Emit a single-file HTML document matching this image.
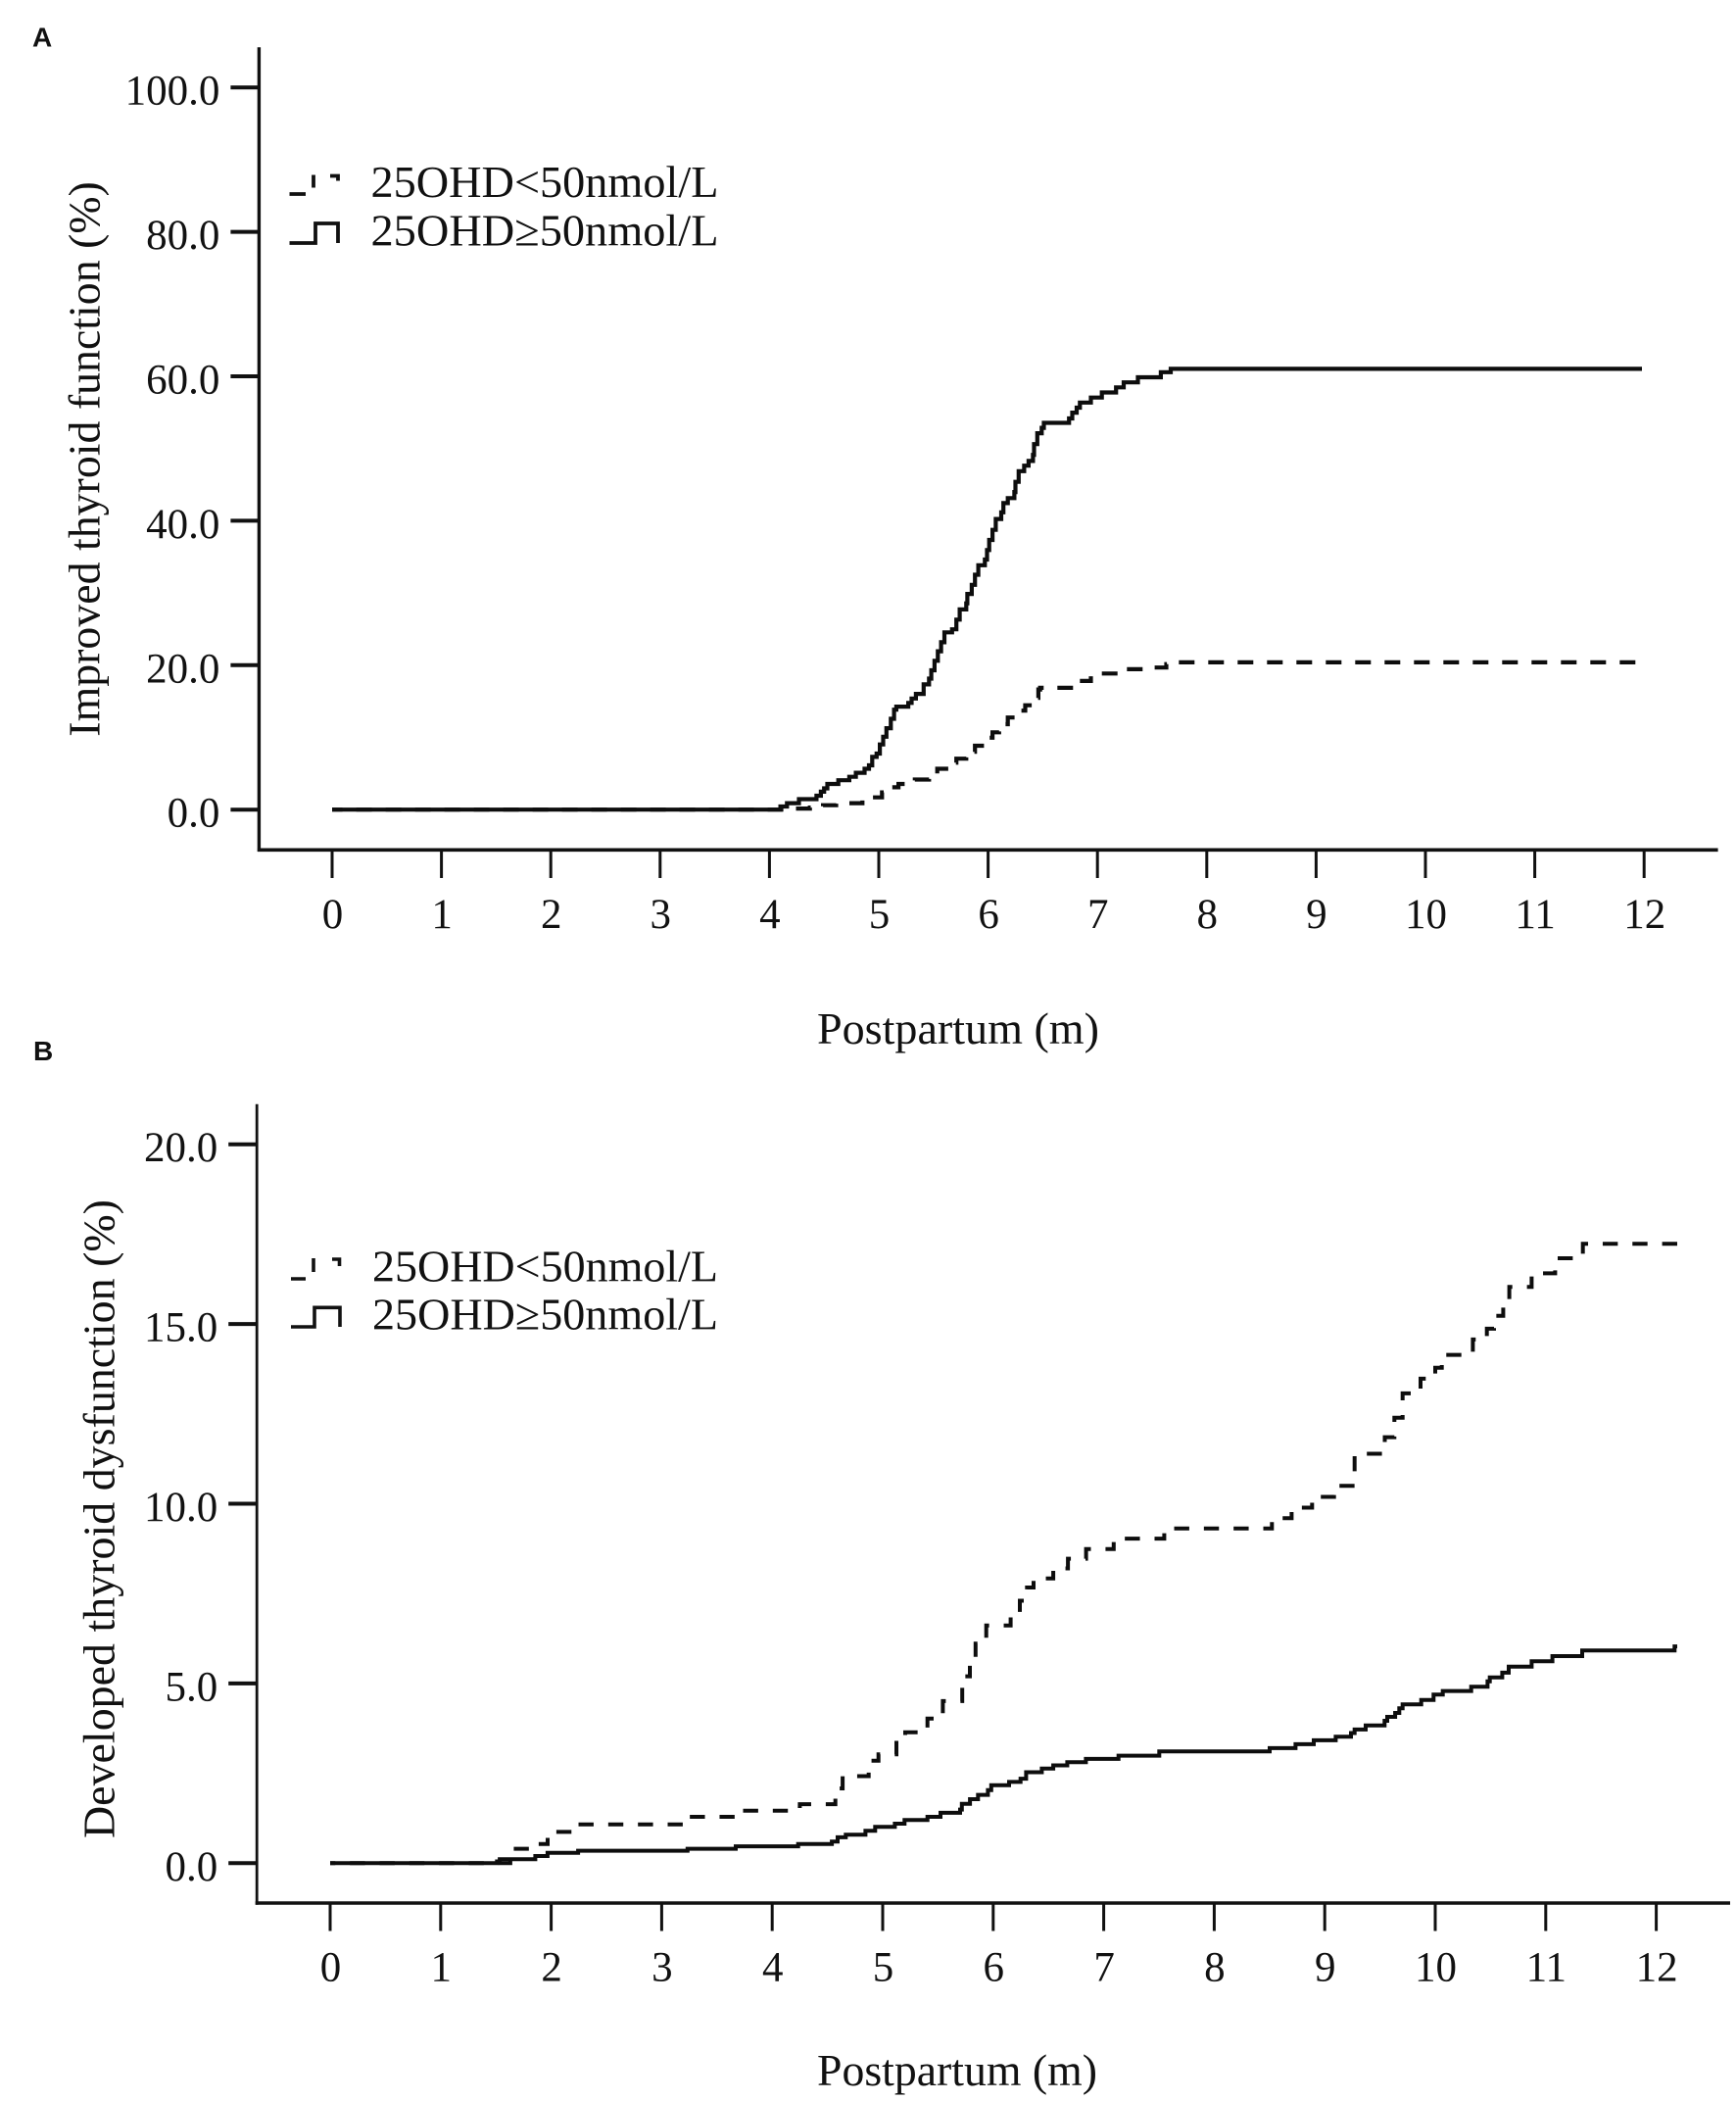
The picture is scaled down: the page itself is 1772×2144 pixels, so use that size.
<!DOCTYPE html>
<html lang="en">
<head>
<meta charset="utf-8">
<title>Thyroid function by 25OHD status</title>
<style>
html,body{margin:0;padding:0;background:#fff;}
#figure{display:block;width:1772px;height:2144px;background:#fff;}
text{font-family:"Liberation Serif",serif;fill:#111;}
.panel-label{font-family:"Liberation Sans",sans-serif;font-weight:700;font-size:28px;fill:#111;}
.tick-label{font-size:43px;}
.title{font-size:46px;}
.legend-text{font-size:45.5px;}
</style>
</head>
<body>
<svg id="figure" xmlns="http://www.w3.org/2000/svg" width="1772" height="2144" viewBox="0 0 1772 2144">
  <g id="panel-a">
    <text class="panel-label" x="33" y="47.5">A</text>
    <text class="title" transform="translate(101.7 751.7) rotate(-90)" x="0" y="0" textLength="566.5" lengthAdjust="spacingAndGlyphs">Improved thyroid function (%)</text>
    <text class="title" x="834" y="1065" textLength="288" lengthAdjust="spacingAndGlyphs">Postpartum (m)</text>
    <g>
      <path d="M295.5 198H312M320 178.5V191.5M337 179.5H345V184.5" fill="none" stroke="#111" stroke-width="3.8"/>
      <text class="legend-text" x="378.5" y="200.8" textLength="355" lengthAdjust="spacingAndGlyphs">25OHD&lt;50nmol/L</text>
      <path d="M295.5 248H322V228H345V248" fill="none" stroke="#111" stroke-width="3.8"/>
      <text class="legend-text" x="378.5" y="250.7" textLength="355" lengthAdjust="spacingAndGlyphs">25OHD≥50nmol/L</text>
    </g>
  </g>
  <g id="panel-b">
    <text class="panel-label" x="34" y="1082">B</text>
    <text class="title" transform="translate(116.7 1876) rotate(-90)" x="0" y="0" textLength="652" lengthAdjust="spacingAndGlyphs">Developed thyroid dysfunction (%)</text>
    <text class="title" x="834" y="2128" textLength="286" lengthAdjust="spacingAndGlyphs">Postpartum (m)</text>
    <g>
      <path d="M297 1305H312M320 1284V1298M339 1285H346.5V1292" fill="none" stroke="#111" stroke-width="3.6"/>
      <text class="legend-text" x="380" y="1307.3" textLength="353" lengthAdjust="spacingAndGlyphs">25OHD&lt;50nmol/L</text>
      <path d="M297 1354H321V1334.3H347V1354" fill="none" stroke="#111" stroke-width="3.6"/>
      <text class="legend-text" x="380" y="1356.7" textLength="353" lengthAdjust="spacingAndGlyphs">25OHD≥50nmol/L</text>
    </g>
  </g>
</svg>
<script>
// ----- Shared categories -----
const monthTicks = [0,1,2,3,4,5,6,7,8,9,10,11,12];
const monthTickLabels = ["0","1","2","3","4","5","6","7","8","9","10","11","12"];

// ----- Panel A data -----
const aValueTicks = [0,20,40,60,80,100];
const aValueTickLabels = ["0.0","20.0","40.0","60.0","80.0","100.0"];
const aHighMonths = [4.10,4.16,4.27,4.43,4.47,4.50,4.53,4.63,4.73,4.79,4.87,4.91,4.94,4.98,5.01,5.04,5.07,5.11,5.14,5.16,5.27,5.30,5.34,5.41,5.46,5.48,5.51,5.54,5.57,5.60,5.67,5.71,5.74,5.80,5.81,5.85,5.88,5.91,5.97,5.99,6.01,6.04,6.07,6.12,6.14,6.18,6.24,6.25,6.28,6.33,6.37,6.41,6.42,6.45,6.49,6.51,6.74,6.77,6.81,6.84,6.94,7.04,7.17,7.24,7.37,7.58,7.67];
const aHighValues = [0.43,0.89,1.45,1.92,2.48,2.95,3.56,4.07,4.54,5.10,5.66,6.13,7.30,7.76,9.02,10.10,11.27,12.58,13.84,14.26,14.77,15.38,16.03,17.34,18.14,19.30,20.61,21.92,23.18,24.54,24.96,26.31,27.72,28.56,29.87,31.13,32.53,33.84,34.63,35.94,37.34,38.74,40.24,41.17,42.44,43.14,43.98,45.38,46.87,47.62,48.28,49.12,50.61,52.11,52.86,53.56,54.16,54.96,55.66,56.36,57.06,57.76,58.46,59.16,59.87,60.57,61.03];
const aHighEndMonth = 11.98;
const aLowMonths = [4.19,4.37,4.49,4.61,4.85,4.91,5.03,5.10,5.18,5.33,5.46,5.535,5.64,5.71,5.80,5.88,5.97,6.04,6.10,6.18,6.27,6.34,6.425,6.46,6.476,6.82,6.94,7.01,7.25,7.51,7.63,7.69];
const aLowValues = [0.15,0.29,0.61,0.89,1.36,1.69,2.39,3.09,3.56,4.17,4.96,5.66,6.50,7.06,8.00,8.84,9.96,10.70,11.83,12.76,13.70,14.45,15.47,16.64,16.87,17.81,18.18,18.84,19.44,19.68,20.15,20.40];
const aLowEndMonth = 11.92;

// ----- Panel B data -----
const bValueTicks = [0,5,10,15,20];
const bValueTickLabels = ["0.0","5.0","10.0","15.0","20.0"];
const bHighMonths = [1.51,1.535,1.856,1.967,2.244,3.234,3.67,4.235,4.54,4.592,4.666,4.844,4.932,5.11,5.198,5.405,5.523,5.7,5.716,5.79,5.863,5.952,5.982,6.144,6.247,6.298,6.44,6.543,6.67,6.839,7.134,7.503,8.502,8.736,8.901,9.099,9.238,9.27,9.371,9.542,9.566,9.637,9.675,9.705,9.873,9.985,10.068,10.325,10.473,10.494,10.606,10.665,10.872,11.06,11.33,12.166];
const bHighValues = [0.05,0.11,0.2,0.29,0.345,0.40,0.47,0.535,0.6,0.72,0.79,0.9,1.01,1.1,1.2,1.29,1.4,1.49,1.65,1.78,1.9,2.03,2.17,2.26,2.35,2.53,2.63,2.72,2.81,2.9,2.99,3.11,3.2,3.31,3.42,3.52,3.62,3.72,3.83,3.96,4.07,4.18,4.31,4.42,4.54,4.69,4.79,4.91,5.06,5.17,5.3,5.47,5.62,5.76,5.92,6.03];
const bHighEndMonth = 12.19;
const bLowMonths = [1.63,1.83,1.968,2.244,3.234,3.672,4.25,4.572,4.637,4.873,4.962,5.124,5.204,5.405,5.544,5.72,5.789,5.84,5.937,6.158,6.241,6.306,6.365,6.543,6.676,6.84,7.09,7.548,8.522,8.7,8.886,9.084,9.27,9.543,9.63,9.705,9.867,10.0,10.059,10.34,10.467,10.532,10.615,10.67,10.872,11.085,11.336];
const bLowValues = [0.40,0.535,0.87,1.08,1.29,1.46,1.64,2.08,2.42,2.85,3.03,3.44,3.64,4.02,4.51,5.2,5.6,6.11,6.61,6.85,7.3,7.67,7.92,8.2,8.47,8.74,9.03,9.31,9.6,9.89,10.19,10.5,11.39,11.85,12.39,13.07,13.48,13.78,14.14,14.57,14.87,15.23,15.57,16.03,16.41,16.83,17.23];
const bLowEndMonth = 12.19;

// ----- Axis functions -----
const SVGNS = "http://www.w3.org/2000/svg";
function xA(m){ return 339 + 111.6 * m; }
function yA(v){ return 826.2 - 7.37 * v; }
function xB(m){ return 337 + 112.8 * m; }
function yB(v){ return 1901.3 - 36.68 * v; }

function stepPath(months, values, endMonth, x, y){
  let d = "M" + x(0).toFixed(1) + " " + y(0).toFixed(1);
  for (let i = 0; i < months.length; i++){
    d += "H" + x(months[i]).toFixed(1) + "V" + y(values[i]).toFixed(1);
  }
  return d + "H" + x(endMonth).toFixed(1);
}

function makeLine(parent, x1, y1, x2, y2, width){
  const el = document.createElementNS(SVGNS, "line");
  el.setAttribute("x1", x1);
  el.setAttribute("y1", y1);
  el.setAttribute("x2", x2);
  el.setAttribute("y2", y2);
  el.setAttribute("stroke", "#111");
  el.setAttribute("stroke-width", width);
  parent.appendChild(el);
  return el;
}

function makeLabel(parent, x, y, anchor, content){
  const el = document.createElementNS(SVGNS, "text");
  el.setAttribute("class", "tick-label");
  el.setAttribute("x", x);
  el.setAttribute("y", y);
  el.setAttribute("text-anchor", anchor);
  el.textContent = content;
  parent.appendChild(el);
  return el;
}

function makeCurve(parent, d, width, dashLen, gapLen){
  const el = document.createElementNS(SVGNS, "path");
  el.setAttribute("d", d);
  el.setAttribute("fill", "none");
  el.setAttribute("stroke", "#0d0d0d");
  el.setAttribute("stroke-width", width);
  parent.appendChild(el);
  if (dashLen){
    // anchor the dash pattern so the path finishes exactly at the end of a dash
    const period = dashLen + gapLen;
    const total = el.getTotalLength();
    el.setAttribute("stroke-dasharray", dashLen + " " + gapLen);
    el.setAttribute("stroke-dashoffset", (dashLen - (total % period)).toFixed(2));
  }
  return el;
}

function drawAxes(cfg){
  const g = document.getElementById(cfg.id);
  const yAxis = makeLine(g, cfg.axisX, cfg.axisTop, cfg.axisX, cfg.axisY + 1.7, cfg.yAxisWidth);
  
  
  const xAxis = makeLine(g, cfg.axisX - 1.5, cfg.axisY, cfg.axisEnd, cfg.axisY, 3.6);
  
  

  cfg.valueTicks.forEach(function(v, i){
    const tick = makeLine(g, cfg.axisX - 29, cfg.y(v), cfg.axisX, cfg.y(v), 4);
    
    
    const label = makeLabel(g, cfg.axisX - 40, cfg.y(v) + 17.5, "end", cfg.valueLabels[i]);
    
    
  });

  monthTicks.forEach(function(m, i){
    const tick = makeLine(g, cfg.x(m), cfg.axisY, cfg.x(m), cfg.tickBottom, 3);
    
    
    const label = makeLabel(g, cfg.x(m) + 0.5, cfg.labelBaseline, "middle", monthTickLabels[i]);
    
    
  });
}

drawAxes({id:"panel-a", x:xA, y:yA, axisX:264.4, axisTop:48.2, axisY:867.3, axisEnd:1753.6, tickBottom:896, labelBaseline:947, yAxisWidth:3.4, valueTicks:aValueTicks, valueLabels:aValueTickLabels});
drawAxes({id:"panel-b", x:xB, y:yB, axisX:262.2, axisTop:1126.7, axisY:1942, axisEnd:1766, tickBottom:1970.5, labelBaseline:2021.7, yAxisWidth:2.8, valueTicks:bValueTicks, valueLabels:bValueTickLabels});

const panelA = document.getElementById("panel-a");
const panelB = document.getElementById("panel-b");

const aLowCurve = makeCurve(panelA, stepPath(aLowMonths, aLowValues, aLowEndMonth, xA, yA), 4.2, 16, 14);


const aHighCurve = makeCurve(panelA, stepPath(aHighMonths, aHighValues, aHighEndMonth, xA, yA), 4.2);



const bLowCurve = makeCurve(panelB, stepPath(bLowMonths, bLowValues, bLowEndMonth, xB, yB), 4, 15.4, 14.93);


const bHighCurve = makeCurve(panelB, stepPath(bHighMonths, bHighValues, bHighEndMonth, xB, yB), 4);


</script>
</body>
</html>
